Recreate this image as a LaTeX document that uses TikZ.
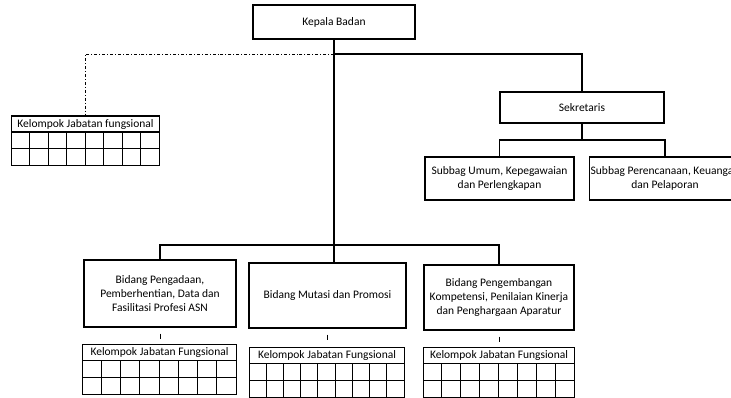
\documentclass[tikz,border=0pt]{standalone}
\usepackage{fontspec}
\setmainfont{Carlito}
\usetikzlibrary{calc}

% table of a Kelompok Jabatan Fungsional: name, left, right, top, columns, text
\newcommand{\jabgrid}[6]{%
  \node[headbox,minimum width={#3-#2},anchor=north west] (#1) at (#2,#4) {#6};
  \draw[gridline] (#2,#4) rectangle (#3,#4+50);
  \draw[gridline] (#2,#4+16) -- (#3,#4+16);
  \draw[gridline] (#2,#4+33) -- (#3,#4+33);
  \pgfmathtruncatemacro{\ncol}{#5-1}
  \foreach \c in {1,...,\ncol}
    \draw[gridline] ({#2+\c*(#3-#2)/#5},#4+16) -- ({#2+\c*(#3-#2)/#5},#4+50);
}

\begin{document}
\begin{tikzpicture}[x=1pt,y=-1pt,
  unit/.style={draw,line width=1.1pt,align=center,inner sep=1pt,
    font=\fontsize{11.5}{14}\selectfont},
  headbox/.style={draw,line width=1pt,minimum height=16pt,inner sep=0pt,
    font=\fontsize{11.5}{12}\selectfont},
  gridline/.style={line width=1pt},
  link/.style={line width=1.2pt},
  staf/.style={line width=0.9pt,dash dot}]
\useasboundingbox (0,0) rectangle (731,398);

% pimpinan
\node[unit,minimum width=162pt,minimum height=34pt] (kb) at (334,22) {Kepala Badan};
\node[unit,minimum width=164pt,minimum height=31pt] (sek) at (582,107.5) {Sekretaris};
\node[unit,minimum width=149pt,minimum height=43pt] (sub1) at (499.5,178.5)
  {Subbag Umum, Kepegawaian\\dan Perlengkapan};
\node[unit,minimum width=150pt,minimum height=43pt] (sub2) at (665,178.5)
  {Subbag Perencanaan, Keuangan\\dan Pelaporan};

% bidang
\node[unit,minimum width=152pt,minimum height=67pt] (b1) at (160,293.5)
  {Bidang Pengadaan,\\Pemberhentian, Data dan\\Fasilitasi Profesi ASN};
\node[unit,minimum width=157pt,minimum height=65pt] (b2) at (327.5,295.5)
  {Bidang Mutasi dan Promosi};
\node[unit,minimum width=150pt,minimum height=65pt] (b3) at (499,297.5)
  {Bidang Pengembangan\\Kompetensi, Penilaian Kinerja\\dan Penghargaan Aparatur};

% kelompok jabatan fungsional
\jabgrid{kjf0}{11}{159}{116}{8}{Kelompok Jabatan fungsional}
\jabgrid{kjf1}{82}{236}{344}{8}{Kelompok Jabatan Fungsional}
\jabgrid{kjf2}{249}{404}{347}{9}{Kelompok Jabatan Fungsional}
\jabgrid{kjf3}{423}{574}{347}{8}{Kelompok Jabatan Fungsional}

% garis komando
\coordinate (top) at (334,54);
\coordinate (mid) at (334,245);
\coordinate (sj) at (582,140);
\draw[link] (kb.south) -- (kb.south |- b2.north);
\draw[link] (top) -| (sek.north);
\draw[link] (sek.south) -- (sj);
\draw[link] (sub1.north) |- (sj) -| (sub2.north);
\draw[link] (b1.north) |- (mid) -| (b3.north);
\draw[staf] (top) -| (kjf0.north);

% garis koordinasi
\foreach \b in {1,2,3}
  \draw[line width=0.8pt] ($(b\b.south)+(0,6)$) -- ($(b\b.south)+(0,11)$);
\end{tikzpicture}
\end{document}
